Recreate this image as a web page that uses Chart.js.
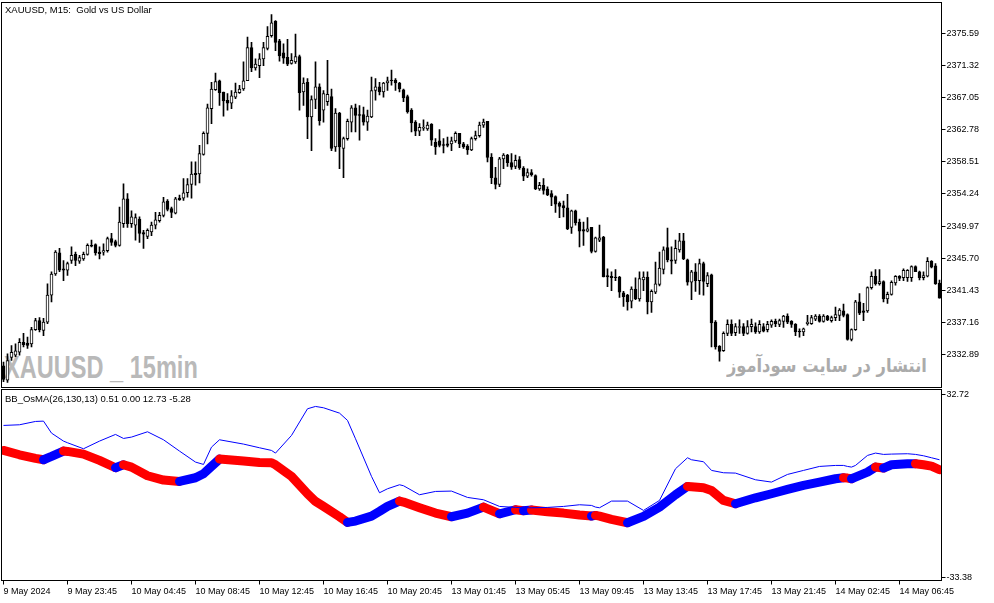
<!DOCTYPE html>
<html lang="es">
<head>
<meta charset="utf-8">
<title>XAUUSD, M15</title>
<script src="https://cdn.jsdelivr.net/npm/chart.js@4.4.1/dist/chart.umd.min.js"></script>
<style>
  html, body { margin: 0; padding: 0; background: #fff; }
  #contenedor { position: relative; width: 994px; height: 603px; overflow: hidden; font-family: "Liberation Sans", Arial, sans-serif; }
  canvas { position: absolute; left: 0; z-index: 1; }
  #graficoVelas { top: 0; }
  #graficoOsma { top: 388px; }
  .etiqueta { position: absolute; left: 5px; font-size: 9.5px; line-height: 11px; color: #000; z-index: 2; white-space: pre; }
  #marcaSimbolo { position: absolute; left: 4px; top: 352px; font: bold 31px/31px "Liberation Sans", Arial, sans-serif; color: #b9b9b9; transform: scaleX(0.76); transform-origin: left top; white-space: pre; z-index: 0; }
  #marcaSitio { position: absolute; right: 67px; top: 353px; font: bold 19px/24px "DejaVu Sans", sans-serif; color: #ababab; direction: rtl; white-space: nowrap; transform: scaleX(0.855); transform-origin: right top; z-index: 0; }
</style>
</head>
<body>
<div id="contenedor">
  <div id="marcaSimbolo">XAUUSD _ 15min</div>
  <div id="marcaSitio">انتشار در سایت سودآموز</div>
  <canvas id="graficoVelas" width="994" height="388"></canvas>
  <canvas id="graficoOsma" width="994" height="215"></canvas>
  <div class="etiqueta" style="top:4px">XAUUSD, M15:  Gold vs US Dollar</div>
  <div class="etiqueta" style="top:393px">BB_OsMA(26,130,13) 0.51 0.00 12.73 -5.28</div>
</div>
<script>
// Velas de 15 minutos
const aperturas = [
  2331.4, 2329.5, 2332.5, 2332.8, 2333.2, 2334.5, 2334.4, 2334.3, 2336.2, 2337.4,
  2336.1, 2337.2, 2340.8, 2343.6, 2346.4, 2344.3, 2344.1, 2345.4, 2346.2, 2345.3,
  2345.6, 2346.2, 2347.4, 2347.5, 2346.5, 2346.5, 2346.7, 2348.3, 2347.9, 2347.4,
  2350.3, 2353.6, 2350.3, 2350.1, 2350.9, 2349.1, 2348.6, 2349.2, 2350.1, 2350.7,
  2351.4, 2353.3, 2352.3, 2351.7, 2353.7, 2353.7, 2354.4, 2355.5, 2357.0, 2356.9,
  2359.5, 2362.3, 2365.6, 2368.1, 2369.3, 2367.8, 2366.7, 2366.3, 2367.1, 2367.7,
  2368.2, 2369.3, 2373.7, 2371.0, 2371.3, 2372.2, 2373.6, 2375.3, 2377.2, 2374.6,
  2373.0, 2372.4, 2371.6, 2371.8, 2372.5, 2367.8, 2369.1, 2364.5, 2366.8, 2368.5,
  2365.4, 2366.5, 2367.2, 2360.5, 2365.0, 2360.3, 2361.6, 2363.8, 2365.7, 2364.8,
  2364.8, 2363.8, 2364.5, 2368.0, 2368.5, 2367.8, 2369.0, 2369.4, 2369.4, 2369.0,
  2368.1, 2367.2, 2365.4, 2363.8, 2362.6, 2363.0, 2362.9, 2363.5, 2361.1, 2361.3,
  2360.8, 2360.9, 2360.9, 2361.3, 2362.3, 2360.9, 2360.6, 2360.1, 2361.6, 2362.0,
  2363.4, 2363.9, 2359.1, 2356.4, 2355.5, 2358.9, 2359.4, 2358.4, 2357.9, 2358.8,
  2357.7, 2356.6, 2357.1, 2356.7, 2354.9, 2355.4, 2354.9, 2354.3, 2353.9, 2353.0,
  2352.7, 2352.4, 2349.8, 2352.0, 2350.5, 2349.5, 2349.3, 2349.8, 2346.6, 2348.1,
  2348.5, 2343.4, 2343.3, 2343.2, 2343.2, 2341.1, 2340.8, 2340.0, 2341.6, 2340.3,
  2342.8, 2343.2, 2339.9, 2341.2, 2342.2, 2344.2, 2347.1, 2345.5, 2345.4, 2346.8,
  2348.0, 2345.5, 2342.5, 2343.9, 2342.7, 2345.0, 2342.3, 2343.5, 2337.2, 2334.0,
  2333.4, 2335.7, 2336.9, 2335.8, 2336.5, 2336.6, 2335.7, 2336.6, 2336.6, 2335.9,
  2336.6, 2336.2, 2336.8, 2337.3, 2336.9, 2337.3, 2338.0, 2337.3, 2336.9, 2336.0,
  2335.9, 2337.0, 2337.0, 2337.6, 2338.0, 2337.3, 2338.0, 2337.4, 2337.8, 2338.1,
  2338.7, 2338.2, 2334.9, 2336.2, 2339.9, 2338.7, 2338.7, 2341.8, 2343.3, 2342.3,
  2342.6, 2340.3, 2340.9, 2342.4, 2343.3, 2343.1, 2343.1, 2343.1, 2344.6, 2343.9,
  2343.1, 2343.3, 2345.3, 2344.7, 2342.4
];
const maximos = [
  2331.9, 2333.0, 2334.1, 2334.3, 2335.0, 2335.7, 2335.2, 2336.5, 2337.7, 2337.8,
  2337.7, 2342.3, 2343.9, 2346.7, 2347.0, 2345.4, 2345.2, 2347.2, 2346.5, 2346.1,
  2346.5, 2347.6, 2348.1, 2347.6, 2347.2, 2347.6, 2348.5, 2349.0, 2348.1, 2352.5,
  2355.6, 2354.3, 2352.0, 2351.6, 2351.2, 2349.4, 2349.6, 2350.5, 2351.8, 2351.8,
  2353.8, 2353.5, 2352.5, 2353.8, 2354.1, 2356.3, 2356.3, 2358.5, 2358.5, 2360.7,
  2362.5, 2366.2, 2369.1, 2370.3, 2369.4, 2367.8, 2367.6, 2368.0, 2369.0, 2368.7,
  2371.8, 2375.1, 2374.4, 2372.2, 2372.9, 2374.4, 2376.5, 2378.1, 2377.3, 2374.8,
  2374.2, 2374.8, 2372.9, 2375.5, 2372.7, 2369.7, 2369.6, 2367.3, 2371.8, 2368.9,
  2368.0, 2372.0, 2368.2, 2365.6, 2365.1, 2361.8, 2364.2, 2366.0, 2366.2, 2366.0,
  2365.8, 2365.4, 2369.8, 2369.6, 2369.1, 2369.1, 2369.8, 2370.7, 2369.6, 2369.1,
  2368.2, 2367.4, 2365.6, 2364.0, 2363.6, 2364.1, 2363.8, 2363.6, 2361.6, 2362.8,
  2361.6, 2361.8, 2361.8, 2362.5, 2362.3, 2361.1, 2360.8, 2361.8, 2362.6, 2363.8,
  2364.2, 2363.9, 2359.6, 2357.8, 2359.1, 2359.6, 2359.5, 2359.6, 2359.4, 2359.2,
  2357.9, 2357.6, 2357.5, 2356.8, 2355.8, 2356.3, 2355.2, 2354.7, 2354.0, 2353.2,
  2353.3, 2354.2, 2352.1, 2352.1, 2350.9, 2350.5, 2351.1, 2349.8, 2348.5, 2350.1,
  2348.6, 2344.3, 2343.9, 2344.2, 2343.3, 2341.3, 2340.9, 2341.9, 2343.1, 2343.9,
  2343.9, 2343.9, 2341.5, 2345.2, 2346.5, 2347.2, 2349.7, 2347.2, 2348.1, 2349.0,
  2349.0, 2345.6, 2344.1, 2345.0, 2345.6, 2345.2, 2343.8, 2343.6, 2337.4, 2334.1,
  2335.9, 2337.5, 2337.5, 2337.0, 2337.5, 2337.0, 2337.4, 2337.6, 2337.1, 2337.4,
  2337.0, 2337.3, 2337.5, 2337.6, 2337.6, 2338.1, 2338.3, 2337.4, 2337.0, 2336.3,
  2336.4, 2338.1, 2338.1, 2338.2, 2338.2, 2338.2, 2338.1, 2338.0, 2339.2, 2339.0,
  2339.6, 2338.3, 2336.3, 2340.1, 2341.0, 2339.7, 2341.9, 2343.9, 2344.2, 2344.2,
  2342.7, 2341.2, 2342.7, 2343.4, 2343.4, 2344.3, 2344.2, 2344.7, 2344.7, 2344.0,
  2343.9, 2345.8, 2345.4, 2345.0, 2342.8
];
const minimos = [
  2329.3, 2329.2, 2332.1, 2332.6, 2332.8, 2333.9, 2333.7, 2333.9, 2336.1, 2335.9,
  2335.4, 2337.0, 2339.9, 2343.4, 2343.9, 2342.7, 2343.4, 2345.0, 2344.7, 2345.0,
  2345.4, 2346.1, 2347.2, 2346.1, 2345.6, 2346.1, 2346.5, 2347.4, 2347.2, 2347.3,
  2349.8, 2349.8, 2349.8, 2348.1, 2347.8, 2347.0, 2348.3, 2348.7, 2349.6, 2350.5,
  2351.2, 2352.0, 2351.1, 2351.6, 2353.4, 2353.4, 2353.8, 2353.7, 2355.4, 2355.7,
  2359.4, 2360.9, 2363.6, 2368.0, 2366.0, 2364.6, 2365.4, 2365.6, 2366.9, 2367.6,
  2368.0, 2369.3, 2370.5, 2370.7, 2369.7, 2371.3, 2373.4, 2375.1, 2373.3, 2371.9,
  2371.6, 2371.3, 2371.5, 2371.6, 2365.4, 2366.0, 2361.6, 2360.0, 2365.6, 2363.4,
  2363.8, 2366.0, 2360.0, 2359.9, 2357.6, 2356.4, 2361.4, 2362.5, 2362.5, 2361.4,
  2363.4, 2362.7, 2364.4, 2366.7, 2367.4, 2367.1, 2368.0, 2368.7, 2368.0, 2367.8,
  2366.5, 2365.0, 2362.5, 2362.0, 2362.0, 2362.7, 2362.7, 2360.7, 2359.5, 2360.5,
  2359.7, 2360.5, 2360.0, 2361.1, 2360.4, 2360.3, 2359.5, 2360.0, 2361.4, 2361.8,
  2363.1, 2358.5, 2355.6, 2354.9, 2355.2, 2357.6, 2357.9, 2357.5, 2357.6, 2357.5,
  2356.0, 2356.4, 2356.6, 2354.8, 2354.7, 2354.2, 2354.0, 2352.7, 2351.8, 2351.1,
  2351.2, 2349.5, 2349.0, 2350.1, 2347.2, 2347.4, 2349.2, 2346.4, 2346.5, 2347.9,
  2343.2, 2341.9, 2341.4, 2342.7, 2340.5, 2339.3, 2338.8, 2339.1, 2340.2, 2340.0,
  2341.4, 2338.3, 2338.5, 2341.0, 2342.0, 2343.6, 2345.2, 2343.6, 2345.0, 2346.5,
  2345.5, 2342.1, 2340.2, 2341.3, 2340.9, 2340.8, 2341.9, 2333.9, 2333.6, 2332.0,
  2333.3, 2335.4, 2335.4, 2335.4, 2335.7, 2335.4, 2335.6, 2335.9, 2335.7, 2335.7,
  2335.9, 2335.9, 2336.5, 2336.6, 2336.6, 2336.5, 2337.0, 2336.5, 2335.4, 2335.2,
  2335.4, 2336.8, 2336.9, 2337.4, 2337.2, 2337.2, 2337.4, 2337.2, 2337.4, 2337.4,
  2337.9, 2334.8, 2334.7, 2336.1, 2338.2, 2337.4, 2338.5, 2341.6, 2342.1, 2342.1,
  2339.9, 2339.7, 2340.8, 2342.1, 2342.7, 2342.7, 2342.6, 2342.6, 2343.9, 2342.8,
  2342.8, 2343.2, 2344.4, 2342.2, 2340.4
];
const cierres = [
  2329.6, 2332.1, 2333.2, 2333.4, 2334.5, 2334.2, 2334.1, 2336.2, 2337.4, 2336.2,
  2337.2, 2340.8, 2343.6, 2346.5, 2344.1, 2344.1, 2345.0, 2346.1, 2345.4, 2345.8,
  2346.2, 2347.4, 2347.3, 2346.4, 2346.3, 2346.7, 2348.3, 2347.8, 2347.4, 2350.5,
  2353.6, 2350.3, 2351.2, 2351.1, 2349.0, 2348.9, 2349.4, 2350.1, 2350.8, 2351.4,
  2353.2, 2352.2, 2351.8, 2353.6, 2353.5, 2354.4, 2355.5, 2356.9, 2356.8, 2359.6,
  2362.3, 2365.7, 2368.2, 2369.2, 2367.7, 2366.6, 2366.3, 2367.3, 2367.8, 2368.2,
  2369.3, 2373.7, 2371.0, 2371.5, 2372.2, 2373.7, 2375.2, 2377.0, 2374.4, 2372.6,
  2372.3, 2371.5, 2372.0, 2372.5, 2367.7, 2369.0, 2364.5, 2366.8, 2368.5, 2364.0,
  2367.6, 2367.5, 2360.3, 2365.0, 2360.5, 2361.6, 2363.9, 2365.7, 2364.7, 2364.7,
  2363.8, 2364.6, 2368.0, 2368.5, 2367.8, 2369.0, 2369.3, 2369.3, 2369.0, 2368.2,
  2367.0, 2365.2, 2363.7, 2362.6, 2363.1, 2363.1, 2363.4, 2361.4, 2360.5, 2360.7,
  2360.7, 2360.7, 2361.3, 2362.3, 2360.9, 2360.5, 2360.1, 2361.6, 2362.0, 2363.4,
  2363.8, 2359.1, 2356.4, 2355.5, 2358.9, 2359.4, 2358.4, 2357.8, 2358.7, 2357.7,
  2356.6, 2357.1, 2356.8, 2354.9, 2355.4, 2354.7, 2354.1, 2353.8, 2352.9, 2352.6,
  2352.4, 2349.6, 2352.0, 2350.4, 2349.3, 2349.3, 2349.6, 2346.6, 2348.4, 2348.4,
  2343.2, 2343.2, 2343.1, 2343.1, 2341.2, 2340.6, 2339.9, 2341.6, 2340.3, 2343.0,
  2343.2, 2339.9, 2341.3, 2342.3, 2344.4, 2346.8, 2345.5, 2345.3, 2347.0, 2348.0,
  2345.6, 2342.5, 2343.9, 2342.7, 2345.0, 2342.6, 2343.4, 2337.1, 2333.9, 2333.3,
  2335.7, 2336.9, 2335.7, 2336.6, 2336.6, 2335.7, 2336.6, 2336.9, 2335.9, 2336.9,
  2336.0, 2336.9, 2337.3, 2337.0, 2337.4, 2338.0, 2337.2, 2336.9, 2335.9, 2335.9,
  2336.3, 2337.2, 2337.8, 2338.0, 2337.3, 2338.0, 2337.5, 2337.8, 2338.2, 2338.8,
  2338.1, 2334.9, 2336.2, 2339.9, 2338.4, 2338.5, 2341.8, 2343.3, 2342.3, 2342.6,
  2340.3, 2340.9, 2342.5, 2343.3, 2343.0, 2344.1, 2344.1, 2344.6, 2343.9, 2343.1,
  2343.4, 2345.3, 2344.5, 2342.3, 2340.4
];

// Escala de precios a la derecha
const ticksPrecio = [2332.89, 2337.16, 2341.43, 2345.70, 2349.97, 2354.24, 2358.51, 2362.78, 2367.05, 2371.32, 2375.59];

// Etiquetas del eje de tiempo (una cada 16 velas)
const indicesEtiquetas = [0, 16, 32, 48, 64, 80, 96, 112, 128, 144, 160, 176, 192, 208, 224];
const etiquetasTiempo = [
  "9 May 2024", "9 May 23:45", "10 May 04:45", "10 May 08:45", "10 May 12:45",
  "10 May 16:45", "10 May 20:45", "13 May 01:45", "13 May 05:45", "13 May 09:45",
  "13 May 13:45", "13 May 17:45", "13 May 21:45", "14 May 02:45", "14 May 06:45"
];

// Indicador BB_OsMA: índice de vela, línea gruesa (OsMA) y línea fina
const osmaIndices = [
  0, 4, 8, 10, 12, 15, 16, 20, 24, 28,
  30, 32, 36, 40, 44, 48, 50, 52, 54, 60,
  64, 67, 68, 72, 76, 78, 80, 84, 86, 88,
  92, 94, 96, 99, 100, 104, 108, 112, 116, 120,
  124, 128, 130, 132, 136, 140, 144, 147, 148, 149,
  152, 156, 160, 164, 168, 171, 172, 175, 177, 180,
  183, 188, 192, 196, 200, 204, 208, 210, 211, 212,
  213, 216, 218, 220, 222, 226, 228, 230, 232, 234
];
const osmaValores = [
  12.49, 10.92, 9.60, 9.12, 10.32, 12.25, 12.13, 11.17, 8.88, 6.23,
  7.31, 6.47, 3.34, 1.77, 1.29, 2.62, 4.06, 6.71, 9.36, 8.64,
  8.16, 8.04, 7.31, 3.10, -3.16, -5.93, -7.74, -11.47, -13.52, -13.03,
  -11.23, -9.54, -7.74, -5.81, -6.17, -8.22, -10.15, -11.47, -10.15, -7.98,
  -10.39, -8.94, -9.30, -9.06, -9.66, -10.15, -10.87, -11.23, -10.99, -11.23,
  -12.43, -13.64, -11.35, -7.98, -3.52, -0.51, -0.63, -1.00, -1.96, -5.57,
  -6.77, -4.61, -3.16, -1.60, -0.15, 1.05, 2.26, 2.62, 2.50, 2.26,
  2.86, 4.64, 6.47, 6.11, 7.31, 7.67, 7.70, 7.31, 6.83, 5.51
];
const senalValores = [
  21.52, 21.76, 22.96, 23.08, 18.75, 15.86, 15.26, 13.09, 15.86, 18.27,
  16.82, 17.31, 19.23, 16.34, 12.25, 8.28, 7.43, 13.69, 16.34, 14.78,
  13.45, 12.49, 11.53, 17.91, 27.54, 28.38, 27.90, 25.97, 23.33, 16.70,
  3.10, -2.80, -1.36, 0.09, -0.27, -3.52, -2.32, -2.20, -4.49, -5.33,
  -7.74, -8.10, -8.22, -8.22, -8.10, -7.74, -7.14, -7.38, -7.98, -8.22,
  -5.81, -5.81, -9.18, -5.57, 5.87, 9.84, 9.12, 8.40, 5.27, 4.42,
  4.30, 1.89, 1.05, 3.82, 5.27, 6.71, 7.07, 7.07, 6.71, 6.47,
  7.07, 10.68, 11.53, 11.05, 11.17, 11.29, 11.05, 10.56, 9.84, 9.12
];
const ticksOsma = [32.72, -33.38];

Chart.defaults.font.family = '"Liberation Sans", Arial, sans-serif';
Chart.defaults.color = '#000';

// Marco negro alrededor del área de cada panel
const marcoPanel = {
    id: 'marcoPanel',
    afterDraw(chart) {
        const { ctx, chartArea } = chart;
        ctx.save();
        ctx.strokeStyle = '#000';
        ctx.lineWidth = 1;
        ctx.strokeRect(chartArea.left, chartArea.top, chartArea.right - chartArea.left, chartArea.bottom - chartArea.top);
        ctx.restore();
    }
};

// Eje derecho al estilo de MetaTrader
function ejeDerecho(min, max, valores) {
    return {
        position: 'right',
        min: min,
        max: max,
        afterFit: scale => {
            scale.width = 52.5;
            // sin margen extra para las etiquetas de los extremos
            scale.paddingTop = 0;
            scale.paddingBottom = 0;
        },
        afterBuildTicks: scale => { scale.ticks = valores.map(v => ({ value: v })); },
        ticks: { callback: v => v.toFixed(2), font: { size: 9 }, color: '#000', padding: 1 },
        grid: { drawOnChartArea: false, drawTicks: true, tickLength: 4, color: '#000' },
        border: { color: '#000' }
    };
}

function crearGraficoVelas() {
    const ctx = document.getElementById("graficoVelas").getContext("2d");

    const cuerpos = aperturas.map((o, i) => ({ x: i, y: [o, cierres[i]] }));
    const mechas = minimos.map((l, i) => ({ x: i, y: [l, maximos[i]] }));

    new Chart(ctx, {
        type: 'bar',
        data: {
            datasets: [
                {
                    label: 'Cuerpo',
                    data: cuerpos,
                    grouped: false,
                    barThickness: 3,
                    borderWidth: 1,
                    borderSkipped: false,
                    borderColor: '#000',
                    backgroundColor: c => cierres[c.dataIndex] >= aperturas[c.dataIndex] ? '#fff' : '#000'
                },
                {
                    label: 'Mecha',
                    data: mechas,
                    grouped: false,
                    barThickness: 1,
                    borderWidth: 0,
                    backgroundColor: '#000'
                }
            ]
        },
        options: {
            responsive: false,
            animation: false,
            devicePixelRatio: 1,
            layout: { padding: { left: 1.5, top: 2.5, right: 0, bottom: 0.5 } },
            plugins: { legend: { display: false }, tooltip: { enabled: false } },
            scales: {
                x: { type: 'linear', display: false, offset: false, min: -0.5, max: aperturas.length - 0.5 },
                y: ejeDerecho(2328.51, 2379.70, ticksPrecio)
            }
        },
        plugins: [marcoPanel]
    });
}

function crearGraficoOsma() {
    const ctx = document.getElementById("graficoOsma").getContext("2d");

    new Chart(ctx, {
        type: 'line',
        data: {
            datasets: [
                {
                    label: 'Señal',
                    data: osmaIndices.map((x, i) => ({ x: x, y: senalValores[i] })),
                    borderColor: '#0000ff',
                    borderWidth: 1,
                    pointRadius: 0,
                    tension: 0
                },
                {
                    label: 'OsMA',
                    data: osmaIndices.map((x, i) => ({ x: x, y: osmaValores[i] })),
                    borderWidth: 9,
                    borderCapStyle: 'round',
                    borderJoinStyle: 'round',
                    pointRadius: 0,
                    tension: 0,
                    // azul cuando sube, rojo cuando baja
                    segment: { borderColor: s => s.p1.parsed.y >= s.p0.parsed.y ? '#0000ff' : '#ff0000' }
                }
            ]
        },
        options: {
            responsive: false,
            animation: false,
            devicePixelRatio: 1,
            layout: { padding: { left: 1.5, top: 1.5, right: 0, bottom: 0 } },
            plugins: { legend: { display: false }, tooltip: { enabled: false } },
            scales: {
                x: {
                    type: 'linear',
                    offset: false,
                    min: -0.5,
                    max: aperturas.length - 0.5,
                    afterFit: scale => {
                        scale.height = 22.5;
                        scale.paddingLeft = 0;
                        scale.paddingRight = 0;
                    },
                    afterBuildTicks: scale => { scale.ticks = indicesEtiquetas.map(v => ({ value: v })); },
                    ticks: {
                        callback: (v, i) => etiquetasTiempo[i],
                        align: 'start',
                        maxRotation: 0,
                        autoSkip: false,
                        font: { size: 9 },
                        color: '#000',
                        padding: 2
                    },
                    grid: { drawOnChartArea: false, drawTicks: true, tickLength: 4, color: '#000' },
                    border: { color: '#000' }
                },
                y: ejeDerecho(-34.5, 34.5, ticksOsma)
            }
        },
        plugins: [marcoPanel]
    });
}

document.addEventListener("DOMContentLoaded", () => {
    crearGraficoVelas();
    crearGraficoOsma();
});
</script>
</body>
</html>
